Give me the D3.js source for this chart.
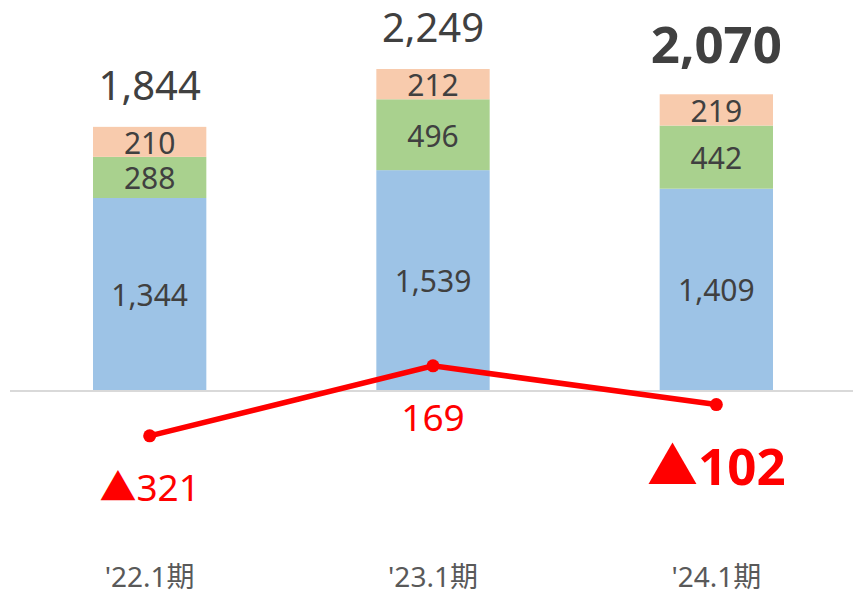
<!DOCTYPE html>
<html lang="ja">
<head>
<meta charset="UTF-8">
<title>Stacked bars with line</title>
<script src="https://d3js.org/d3.v7.min.js"></script>
<style>
  body { margin: 0; background: #fff; }
  text { font-family: "Noto Sans", "Noto Sans CJK JP", sans-serif; }
</style>
</head>
<body>
<svg width="853" height="595"></svg>
<script>
// data
var periods = ["'22.1期", "'23.1期", "'24.1期"];
var seriesA = [1344, 1539, 1409];   // blue
var seriesB = [288, 496, 442];      // green
var seriesC = [210, 212, 219];      // peach
var totals = [1844, 2249, 2070];
var lineVals = [-321, 169, -102];
var colors = ["#9dc3e6", "#a9d18e", "#f8cbad"];

var svg = d3.select("svg");

var x = d3.scaleBand()
    .domain(periods)
    .range([8, 858])
    .paddingInner(0.6)
    .paddingOuter(0.3);

// shared value scale: 0 sits on the gray axis line
var y = d3.scaleLinear()
    .domain([0, 2247])
    .range([390, 69]);

var rows = periods.map(function(p, i) {
    return { period: p, a: seriesA[i], b: seriesB[i], c: seriesC[i] };
});
var stacked = d3.stack().keys(["a", "b", "c"])(rows);

var layer = svg.selectAll("g.layer")
    .data(stacked)
    .enter().append("g")
    .attr("class", "layer")
    .attr("fill", function(d, i) { return colors[i]; });

layer.selectAll("rect")
    .data(function(d) { return d; })
    .enter().append("rect")
    .attr("x", function(d) { return x(d.data.period); })
    .attr("width", x.bandwidth())
    .attr("y", function(d) { return y(d[1]); })
    .attr("height", function(d) { return y(d[0]) - y(d[1]); });

// segment labels
layer.selectAll("text")
    .data(function(d) { return d; })
    .enter().append("text")
    .attr("x", function(d) { return x(d.data.period) + x.bandwidth() / 2; })
    .attr("y", function(d) { return (y(d[0]) + y(d[1])) / 2 + 12; })
    .attr("text-anchor", "middle")
    .attr("font-size", 30)
    .attr("fill", "#404040")
    .text(function(d) { return d3.format(",")(d[1] - d[0]); });

// axis line
svg.append("line")
    .attr("x1", 10).attr("x2", 853)
    .attr("y1", y(0) + 1).attr("y2", y(0) + 1)
    .attr("stroke", "#d9d9d9")
    .attr("stroke-width", 2);

// totals
svg.selectAll("text.total")
    .data(totals)
    .enter().append("text")
    .attr("class", "total")
    .attr("x", function(d, i) { return x(periods[i]) + x.bandwidth() / 2; })
    .attr("y", function(d, i) {
        var top = y(seriesA[i] + seriesB[i] + seriesC[i]);
        return i === 2 ? top - 31 : top - 27;
    })
    .attr("text-anchor", "middle")
    .attr("font-size", function(d, i) { return i === 2 ? 51 : 40; })
    .attr("font-weight", function(d, i) { return i === 2 ? "bold" : "normal"; })
    .attr("fill", "#404040")
    .text(d3.format(","));

// line
var cx = function(d, i) { return x(periods[i]) + x.bandwidth() / 2; };
var lineGen = d3.line()
    .x(cx)
    .y(function(d) { return y(d); });

svg.append("path")
    .datum(lineVals)
    .attr("d", lineGen)
    .attr("fill", "none")
    .attr("stroke", "#ff0000")
    .attr("stroke-width", 5.5);

svg.selectAll("circle.pt")
    .data(lineVals)
    .enter().append("circle")
    .attr("class", "pt")
    .attr("cx", cx)
    .attr("cy", function(d) { return y(d); })
    .attr("r", 6.5)
    .attr("fill", "#ff0000");

svg.selectAll("text.lv")
    .data(lineVals)
    .enter().append("text")
    .attr("class", "lv")
    .attr("x", cx)
    .attr("y", function(d, i) { return y(d) + (i === 2 ? 80 : 65); })
    .attr("text-anchor", "middle")
    .attr("font-size", function(d, i) { return i === 2 ? 51 : 37; })
    .attr("font-weight", function(d, i) { return i === 2 ? "bold" : "normal"; })
    .attr("fill", "#ff0000")
    .text(function(d) { return d < 0 ? "▲" + d3.format(",")(-d) : d3.format(",")(d); });

// category labels
svg.selectAll("text.cat")
    .data(periods)
    .enter().append("text")
    .attr("class", "cat")
    .attr("x", function(d) { return x(d) + x.bandwidth() / 2; })
    .attr("y", 587)
    .attr("text-anchor", "middle")
    .attr("font-size", 28)
    .attr("fill", "#595959")
    .text(function(d) { return d; });
</script>
</body>
</html>
